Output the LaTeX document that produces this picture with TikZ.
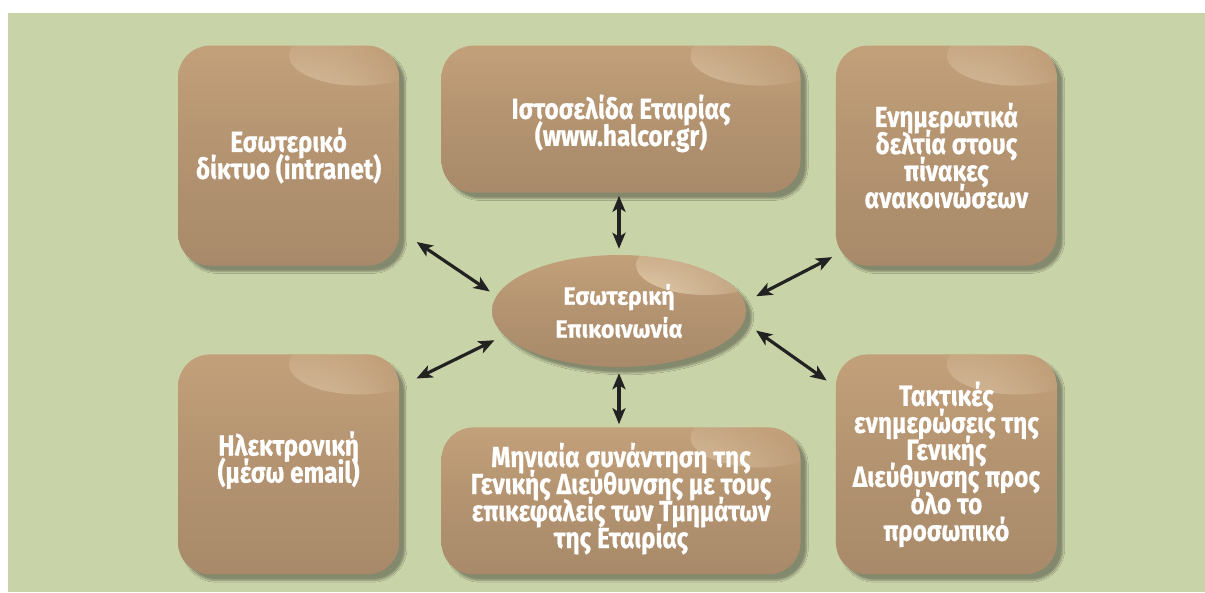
\documentclass[tikz,border=0pt]{standalone}
\usepackage{fontspec}
\newfontfamily\boxfont[FakeStretch=0.84,FakeBold=0.6]{Fira Sans Bold}
\newfontfamily\hubfont[FakeStretch=0.93,FakeBold=0.6]{Fira Sans Bold}
\newcommand\tightlines{\lineskiplimit -30pt\relax}
\usepackage{xcolor}
\usepackage{tikz}
\usetikzlibrary{shapes.geometric,arrows.meta,positioning,calc,shadows.blur,fadings}

\definecolor{bggreen}{HTML}{C9D3A8}
\definecolor{boxtop}{HTML}{C2A07A}
\definecolor{boxmid}{HTML}{B39370}
\definecolor{boxbot}{HTML}{A88A6A}
\definecolor{gloss}{HTML}{F8E8CC}
\definecolor{arrowgray}{HTML}{222222}
\tikzfading[name=glow, inner color=transparent!0, outer color=transparent!100]

\begin{document}
\begin{tikzpicture}[
    x=1pt, y=1pt,
    node distance=60pt and 40pt,
    tile/.style={rectangle, rounded corners=32pt, top color=boxtop, bottom color=boxbot, middle color=boxmid,
        draw=none, align=center, text=white,
        font=\boxfont\fontsize{29}{27}\selectfont\tightlines,
        blur shadow={shadow xshift=6pt, shadow yshift=-6pt, shadow opacity=35, shadow blur steps=8},
        path picture={\fill[gloss, opacity=.7, path fading=glow]
            ($(path picture bounding box.north east)+(-40pt,-10pt)$) ellipse (70pt and 30pt);}},
    square/.style={tile, minimum width=221pt, minimum height=220pt},
    wide/.style={tile, minimum width=359pt, minimum height=147pt},
    hub/.style={tile, ellipse, minimum width=254pt, minimum height=112pt,
        font=\hubfont\fontsize{25}{33}\selectfont},
    link/.style={{Stealth[length=16pt,width=13pt,inset=4pt]}-{Stealth[length=16pt,width=13pt,inset=4pt]},
        line width=3.2pt, draw=arrowgray}
]
    \useasboundingbox (0,0) rectangle (1205,-592);
    \fill[bggreen] (8,-13) rectangle (1205,-592);

    \node [hub] (hub) at (619,-311) {Εσωτερική\\Επικοινωνία};
    \node [wide, above=62pt of hub, xshift=2pt, text height=60pt] (site) {Ιστοσελίδα Εταιρίας\\(www.halcor.gr)};
    \node [wide, below=60pt of hub, xshift=2pt] (meet) {Μηνιαία συνάντηση της\\Γενικής Διεύθυνσης με τους\\επικεφαλείς των Τμημάτων\\της Εταιρίας\\[-16pt]};
    \node [square, left=42pt of site.north west, anchor=north east] (intra) {Εσωτερικό\\δίκτυο (intranet)};
    \node [square, right=35pt of site.north east, anchor=north west] (notice) {Ενημερωτικά\\δελτία στους\\πίνακες\\ανακοινώσεων};
    \node [square, left=42pt of meet.south west, anchor=south east] (email) {Ηλεκτρονική\\(μέσω email)\\[-12pt]};
    \node [square, right=35pt of meet.south east, anchor=south west] (brief) {Τακτικές\\ενημερώσεις της\\Γενικής\\Διεύθυνσης προς\\όλο το\\προσωπικό};

    % double arrows round the hub
    \draw [link, shorten <=3pt, shorten >=6pt] (site.south -| hub.north) -- (hub.north);
    \draw [link, shorten <=6pt, shorten >=3pt] (hub.south) -- (meet.north -| hub.south);
    \draw [link, shorten <=8pt, shorten >=21pt] (hub.173) -- (intra.-34);
    \draw [link, shorten <=13pt, shorten >=4pt] (hub.4) -- (notice.222);
    \draw [link, shorten <=11pt, shorten >=19pt] (hub.192) -- (email.35);
    \draw [link, shorten <=15pt, shorten >=11pt] (hub.-5) -- (brief.145);
\end{tikzpicture}
\end{document}
